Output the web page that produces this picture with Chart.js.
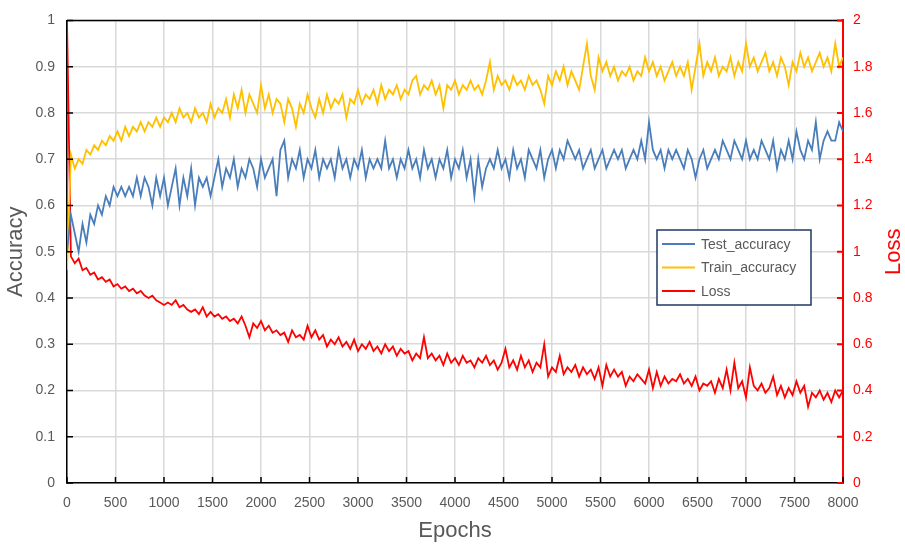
<!DOCTYPE html>
<html lang="en">
<head>
<meta charset="UTF-8">
<title>Accuracy and Loss</title>
<script src="https://cdn.jsdelivr.net/npm/chart.js@4.4.0/dist/chart.umd.min.js"></script>
<style>
  body { margin: 0; background: #fff; }
</style>
</head>
<body>
<canvas id="chart" width="905" height="549"></canvas>
<script>
// one sample every 40 epochs, 0..8000
const epochs = Array.from({ length: 201 }, (_, i) => i * 40);

const testAcc = [
  0.50, 0.58, 0.54, 0.50, 0.56, 0.52, 0.58, 0.56, 0.60, 0.58,
  0.62, 0.60, 0.64, 0.62, 0.64, 0.62, 0.64, 0.62, 0.66, 0.62,
  0.66, 0.64, 0.60, 0.66, 0.62, 0.66, 0.60, 0.64, 0.68, 0.60,
  0.66, 0.62, 0.68, 0.60, 0.66, 0.64, 0.66, 0.62, 0.66, 0.70,
  0.64, 0.68, 0.66, 0.70, 0.64, 0.68, 0.66, 0.70, 0.68, 0.64,
  0.70, 0.66, 0.68, 0.70, 0.62, 0.72, 0.74, 0.66, 0.70, 0.68,
  0.72, 0.66, 0.70, 0.68, 0.72, 0.66, 0.70, 0.68, 0.70, 0.66,
  0.72, 0.68, 0.70, 0.66, 0.70, 0.68, 0.72, 0.66, 0.70, 0.68,
  0.70, 0.68, 0.74, 0.68, 0.70, 0.66, 0.70, 0.68, 0.72, 0.68,
  0.70, 0.66, 0.72, 0.68, 0.70, 0.66, 0.70, 0.68, 0.72, 0.66,
  0.70, 0.68, 0.72, 0.66, 0.70, 0.62, 0.70, 0.64, 0.68, 0.70,
  0.68, 0.72, 0.68, 0.70, 0.66, 0.72, 0.68, 0.70, 0.66, 0.72,
  0.70, 0.68, 0.72, 0.66, 0.70, 0.72, 0.68, 0.72, 0.70, 0.74,
  0.72, 0.70, 0.72, 0.68, 0.70, 0.72, 0.68, 0.70, 0.72, 0.68,
  0.70, 0.72, 0.70, 0.72, 0.68, 0.70, 0.72, 0.70, 0.74, 0.70,
  0.78, 0.72, 0.70, 0.72, 0.68, 0.72, 0.70, 0.72, 0.70, 0.68,
  0.72, 0.70, 0.66, 0.70, 0.72, 0.68, 0.70, 0.72, 0.70, 0.74,
  0.72, 0.70, 0.74, 0.72, 0.70, 0.74, 0.70, 0.72, 0.70, 0.74,
  0.72, 0.70, 0.74, 0.68, 0.72, 0.70, 0.74, 0.70, 0.76, 0.72,
  0.70, 0.74, 0.72, 0.78, 0.70, 0.74, 0.76, 0.74, 0.74, 0.78,
  0.76
];

const trainAcc = [
  0.46, 0.71, 0.68, 0.70, 0.69, 0.72, 0.71, 0.73, 0.72, 0.74,
  0.73, 0.75, 0.74, 0.76, 0.74, 0.77, 0.75, 0.77, 0.76, 0.78,
  0.76, 0.78, 0.77, 0.79, 0.77, 0.79, 0.78, 0.80, 0.78, 0.81,
  0.79, 0.80, 0.78, 0.81, 0.79, 0.80, 0.78, 0.82, 0.79, 0.81,
  0.80, 0.83, 0.79, 0.84, 0.81, 0.85, 0.80, 0.84, 0.82, 0.80,
  0.86, 0.81, 0.84, 0.80, 0.83, 0.82, 0.78, 0.83, 0.81, 0.77,
  0.82, 0.80, 0.84, 0.81, 0.79, 0.83, 0.80, 0.84, 0.81, 0.83,
  0.82, 0.84, 0.79, 0.83, 0.82, 0.85, 0.82, 0.84, 0.83, 0.85,
  0.82, 0.86, 0.83, 0.85, 0.84, 0.86, 0.83, 0.85, 0.84, 0.87,
  0.88, 0.84, 0.86, 0.85, 0.87, 0.84, 0.86, 0.81, 0.86, 0.85,
  0.87, 0.84, 0.86, 0.85, 0.87, 0.85, 0.86, 0.84, 0.87, 0.91,
  0.85, 0.88, 0.86, 0.87, 0.85, 0.88, 0.86, 0.87, 0.85, 0.88,
  0.86, 0.87, 0.85, 0.82, 0.88, 0.86, 0.89, 0.87, 0.90, 0.86,
  0.89, 0.87, 0.85, 0.90, 0.95, 0.88, 0.85, 0.92, 0.89, 0.91,
  0.88, 0.90, 0.87, 0.89, 0.88, 0.90, 0.87, 0.89, 0.88, 0.92,
  0.89, 0.91, 0.88, 0.90, 0.87, 0.89, 0.91, 0.88, 0.90, 0.88,
  0.91, 0.85, 0.90, 0.95, 0.88, 0.91, 0.89, 0.92, 0.88, 0.90,
  0.89, 0.92, 0.88, 0.91, 0.89, 0.95, 0.90, 0.92, 0.89, 0.91,
  0.93, 0.89, 0.91, 0.88, 0.92, 0.90, 0.86, 0.91, 0.89, 0.93,
  0.90, 0.92, 0.89, 0.91, 0.93, 0.90, 0.92, 0.89, 0.95, 0.90,
  0.92
];

const loss = [
  2.00, 0.98, 0.95, 0.97, 0.92, 0.93, 0.90, 0.91, 0.88, 0.89,
  0.87, 0.88, 0.85, 0.86, 0.84, 0.85, 0.83, 0.84, 0.82, 0.83,
  0.81, 0.80, 0.81, 0.79, 0.78, 0.77, 0.78, 0.77, 0.79, 0.76,
  0.77, 0.75, 0.74, 0.75, 0.73, 0.76, 0.72, 0.74, 0.72, 0.73,
  0.71, 0.72, 0.70, 0.71, 0.69, 0.72, 0.68, 0.63, 0.69, 0.67,
  0.70, 0.66, 0.68, 0.65, 0.66, 0.64, 0.65, 0.61, 0.66, 0.63,
  0.64, 0.62, 0.68, 0.63, 0.66, 0.62, 0.64, 0.59, 0.62, 0.60,
  0.63, 0.59, 0.61, 0.58, 0.62, 0.57, 0.60, 0.58, 0.61, 0.57,
  0.59, 0.56, 0.60, 0.57, 0.59, 0.55, 0.58, 0.56, 0.57, 0.53,
  0.56, 0.54, 0.63, 0.54, 0.56, 0.53, 0.55, 0.51, 0.56, 0.52,
  0.54, 0.51, 0.55, 0.52, 0.53, 0.50, 0.54, 0.52, 0.55, 0.51,
  0.53, 0.49, 0.52, 0.58, 0.50, 0.53, 0.49, 0.55, 0.50, 0.53,
  0.48, 0.52, 0.50, 0.60, 0.46, 0.50, 0.48, 0.55, 0.47, 0.50,
  0.48, 0.51, 0.46, 0.50, 0.47, 0.49, 0.45, 0.50, 0.42, 0.51,
  0.46, 0.49, 0.46, 0.48, 0.42, 0.46, 0.44, 0.47, 0.45, 0.43,
  0.49, 0.41, 0.48, 0.42, 0.46, 0.43, 0.45, 0.44, 0.47, 0.43,
  0.45, 0.42, 0.46, 0.40, 0.43, 0.42, 0.44, 0.39, 0.45, 0.41,
  0.49, 0.40, 0.52, 0.41, 0.44, 0.37, 0.50, 0.42, 0.40, 0.43,
  0.39, 0.41, 0.46, 0.38, 0.42, 0.37, 0.41, 0.38, 0.44, 0.39,
  0.42, 0.33, 0.39, 0.37, 0.40, 0.36, 0.39, 0.35, 0.40, 0.37,
  0.40
];

const xTicks = { min: 0, max: 8000, step: 500 };

const GRAY = '#595959';
const FONT = '"Liberation Sans", Arial, sans-serif';

function pts(ys) {
  return ys.map((y, i) => ({ x: epochs[i], y: y }));
}

// legend box drawn inside the plot, like the original
const boxLegend = {
  id: 'boxLegend',
  afterDraw(chart) {
    const ctx = chart.ctx;
    const x0 = 657, y0 = 230, w = 154, h = 75;
    ctx.save();
    ctx.fillStyle = '#fff';
    ctx.fillRect(x0, y0, w, h);
    ctx.strokeStyle = '#203864';
    ctx.lineWidth = 1.5;
    ctx.strokeRect(x0, y0, w, h);
    ctx.font = '14px ' + FONT;
    ctx.textBaseline = 'middle';
    chart.data.datasets.forEach((ds, i) => {
      const cy = y0 + 14 + i * 23.5;
      ctx.strokeStyle = ds.borderColor;
      ctx.lineWidth = 2;
      ctx.beginPath();
      ctx.moveTo(x0 + 5, cy);
      ctx.lineTo(x0 + 38, cy);
      ctx.stroke();
      ctx.fillStyle = GRAY;
      ctx.fillText(ds.label, x0 + 44, cy + 1);
    });
    ctx.restore();
  }
};

// frame line on top, short inward tick marks, and the right-hand title
const frame = {
  id: 'frame',
  afterDraw(chart) {
    const { ctx, chartArea: a, scales } = chart;
    ctx.save();
    ctx.lineWidth = 1.5;
    ctx.strokeStyle = '#000';
    ctx.beginPath();
    ctx.moveTo(a.left, a.top);
    ctx.lineTo(a.right, a.top);
    ctx.stroke();
    ctx.beginPath();
    scales.y.ticks.forEach(t => {
      const y = scales.y.getPixelForValue(t.value);
      ctx.moveTo(a.left, y); ctx.lineTo(a.left + 6, y);
    });
    scales.x.ticks.forEach(t => {
      const x = scales.x.getPixelForValue(t.value);
      ctx.moveTo(x, a.bottom); ctx.lineTo(x, a.bottom - 6);
    });
    ctx.stroke();
    ctx.strokeStyle = '#ff0000';
    ctx.lineWidth = 2;
    ctx.beginPath();
    scales.y1.ticks.forEach(t => {
      const y = scales.y1.getPixelForValue(t.value);
      ctx.moveTo(a.right, y); ctx.lineTo(a.right - 6, y);
    });
    ctx.stroke();

    // "Loss" reads bottom-to-top in the original
    ctx.translate(894, (a.top + a.bottom) / 2);
    ctx.rotate(-Math.PI / 2);
    ctx.fillStyle = '#ff0000';
    ctx.font = '22px ' + FONT;
    ctx.textAlign = 'center';
    ctx.textBaseline = 'middle';
    ctx.fillText('Loss', 0, 0);
    ctx.restore();
  }
};

const ctx = document.getElementById('chart').getContext('2d');
new Chart(ctx, {
  type: 'line',
  data: {
    datasets: [
      { label: 'Test_accuracy', data: pts(testAcc), yAxisID: 'y', borderColor: '#4a7ebb', borderWidth: 1.8 },
      { label: 'Train_accuracy', data: pts(trainAcc), yAxisID: 'y', borderColor: '#ffc000', borderWidth: 1.8 },
      { label: 'Loss', data: pts(loss), yAxisID: 'y1', borderColor: '#ff0000', borderWidth: 1.8 }
    ]
  },
  options: {
    responsive: false,
    animation: false,
    devicePixelRatio: 1,
    layout: { padding: { top: 10 } },
    elements: { point: { radius: 0 }, line: { tension: 0 } },
    plugins: { legend: { display: false }, tooltip: { enabled: false } },
    scales: {
      x: {
        type: 'linear',
        min: xTicks.min, max: xTicks.max,
        ticks: { stepSize: xTicks.step, color: GRAY, font: { size: 14, family: FONT }, padding: 12, maxRotation: 0, callback: v => String(v) },
        grid: { color: '#d9d9d9', lineWidth: 1.5, drawTicks: false },
        border: { color: '#000', width: 1.5 },
        title: { display: true, text: 'Epochs', color: GRAY, font: { size: 22, family: FONT, lineHeight: 1 }, padding: { top: 0, bottom: 7 } },
        afterFit(s) { s.height = 66; }
      },
      y: {
        position: 'left',
        min: 0, max: 1,
        ticks: { stepSize: 0.1, color: GRAY, font: { size: 14, family: FONT }, padding: 12, callback: v => +v.toFixed(1) },
        grid: { color: '#d9d9d9', lineWidth: 1.5, drawTicks: false },
        border: { color: '#000', width: 1.5 },
        title: { display: true, text: 'Accuracy', color: GRAY, font: { size: 22, family: FONT, lineHeight: 1 }, padding: { top: 5, bottom: 0 } },
        afterFit(s) { s.width = 67; }
      },
      y1: {
        position: 'right',
        min: 0, max: 2,
        ticks: { stepSize: 0.2, color: '#ff0000', font: { size: 14, family: FONT }, padding: 10, callback: v => +v.toFixed(1) },
        grid: { drawOnChartArea: false, drawTicks: false },
        border: { color: '#ff0000', width: 2 },
        title: { display: false },
        afterFit(s) { s.width = 62; }
      }
    }
  },
  plugins: [frame, boxLegend]
});
</script>
</body>
</html>
